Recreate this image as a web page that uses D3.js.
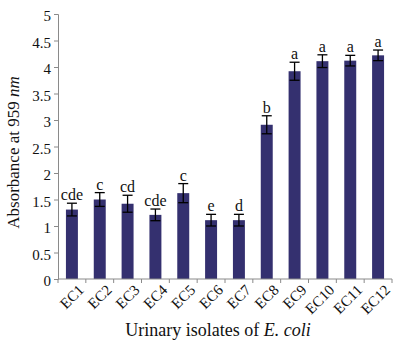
<!DOCTYPE html>
<html><head><meta charset="utf-8">
<script src="https://cdn.jsdelivr.net/npm/d3@7"></script>
<style>body{margin:0;background:#fff}</style>
</head><body>
<svg id="c" width="403" height="348" font-family="'Liberation Serif','Times New Roman',Tinos,'DejaVu Serif',serif"></svg>
<script>
const categories = ["EC1","EC2","EC3","EC4","EC5","EC6","EC7","EC8","EC9","EC10","EC11","EC12"];
const values = [1.31,1.50,1.42,1.21,1.62,1.11,1.11,2.91,3.92,4.11,4.12,4.22];
const errors = [0.12,0.13,0.16,0.11,0.18,0.11,0.11,0.17,0.17,0.12,0.10,0.10];
const letters = ["cde","c","cd","cde","c","e","d","b","a","a","a","a"];
const yTicks = [0,0.5,1,1.5,2,2.5,3,3.5,4,4.5,5];

const FONT = "'Liberation Serif','Times New Roman',Tinos,'DejaVu Serif',serif";
const svg = d3.select("#c");
const L = 58, R = 392, T = 14, B = 279;
const x = d3.scaleBand().domain(categories).range([L, R]).paddingInner(0.57).paddingOuter(0.285);
const y = d3.scaleLinear().domain([0,5]).range([B, T]);
const axisColor = "#8a8a8a";

// y axis
const ya = svg.append("g").attr("transform", `translate(${L},0)`)
  .call(d3.axisLeft(y).tickValues(yTicks).tickSize(4).tickPadding(3).tickFormat(d => d));
ya.attr("font-family", FONT);
ya.select(".domain").attr("stroke", axisColor);
ya.selectAll(".tick line").attr("stroke", axisColor);
ya.selectAll("text").attr("font-size", 15).attr("fill", "#111").attr("dy", "0.45em");

// bars
svg.append("g").selectAll("rect").data(categories).join("rect")
  .attr("x", d => x(d)).attr("width", x.bandwidth())
  .attr("y", (d,i) => y(values[i])).attr("height", (d,i) => B - y(values[i]))
  .attr("fill", "#34306f");

// error bars
const eb = svg.append("g").attr("stroke", "#000").attr("stroke-width", 1.3);
categories.forEach((c,i) => {
  const cx = x(c) + x.bandwidth()/2;
  const y1 = y(values[i] + errors[i]), y0 = y(values[i] - errors[i]);
  eb.append("line").attr("x1", cx).attr("x2", cx).attr("y1", y1).attr("y2", y0);
  eb.append("line").attr("x1", cx-5).attr("x2", cx+5).attr("y1", y1).attr("y2", y1);
  eb.append("line").attr("x1", cx-5).attr("x2", cx+5).attr("y1", y0).attr("y2", y0);
});

// letters
svg.append("g").selectAll("text").data(categories).join("text")
  .attr("x", d => x(d) + x.bandwidth()/2)
  .attr("y", (d,i) => y(values[i] + errors[i]) - 3)
  .attr("text-anchor", "middle").attr("font-size", 16).attr("fill", "#111")
  .text((d,i) => letters[i]);

// x axis
const step = (R - L) / categories.length;
const xg = svg.append("g");
xg.append("line").attr("x1", L).attr("x2", R).attr("y1", B).attr("y2", B).attr("stroke", axisColor);
d3.range(categories.length + 1).forEach(k => {
  xg.append("line").attr("x1", L + k*step).attr("x2", L + k*step).attr("y1", B).attr("y2", B+4).attr("stroke", axisColor);
});
xg.selectAll("text.xl").data(categories).join("text").attr("class","xl")
  .attr("transform", d => `translate(${x(d) + x.bandwidth()/2 + 5},${B+4}) rotate(-45)`)
  .attr("text-anchor", "end").attr("dy", "0.75em").attr("font-size", 15).attr("fill", "#111")
  .text(d => d);

// axis titles
const yt = svg.append("text").attr("transform", `translate(19,${(T+B)/2 + 6}) rotate(-90)`)
  .attr("text-anchor", "middle").attr("font-size", 17).attr("fill", "#111");
yt.append("tspan").text("Absorbance at 959 ");
yt.append("tspan").attr("font-style", "italic").text("nm");

const xt = svg.append("text").attr("x", 218).attr("y", 336)
  .attr("text-anchor", "middle").attr("font-size", 18).attr("fill", "#111");
xt.append("tspan").text("Urinary isolates of ");
xt.append("tspan").attr("font-style", "italic").text("E. coli");
</script>
</body></html>
